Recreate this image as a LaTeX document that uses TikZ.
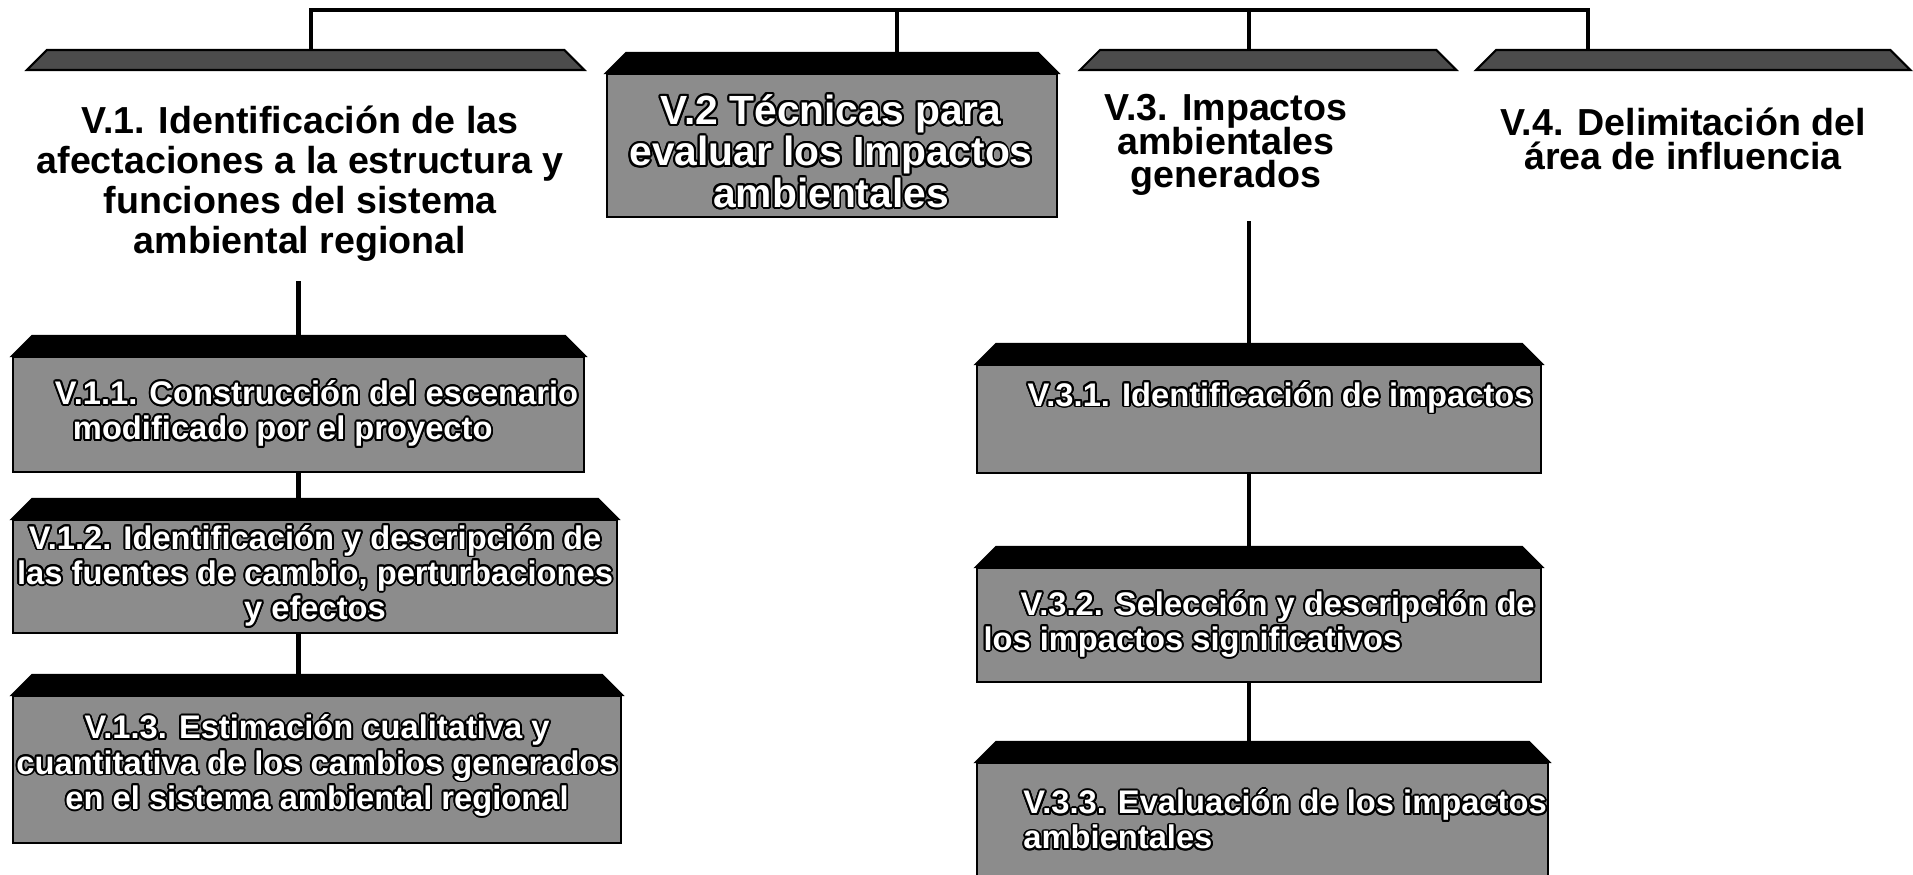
\documentclass[tikz,border=0pt]{standalone}
\usepackage{fontspec}
\setmainfont{Liberation Sans}
\usepackage{contour}
\contourlength{0.55pt}

% texto blanco con borde negro
\newcommand{\bl}[1]{\textcolor{white}{\contour{black}{#1}}}
% letra negrita con interlineado fijo
\newcommand{\letra}[2]{\fontsize{#1}{#2}\selectfont\bfseries\lineskiplimit=-\maxdimen}
% tapa en bisel sobre una caja
\newcommand{\tapa}[2][tapa]{%
  \coordinate (#2t) at ([yshift=2mm]#2.north);
  \draw[#1] (#2.north west) -- ++(20,-20) -- ([xshift=-2mm,yshift=2mm]#2.north east) -- (#2.north east) -- cycle;}

\begin{document}
\begin{tikzpicture}[x=0.1mm,y=-0.1mm,
  caja/.style={draw=black,line width=0.6pt,fill=black!45,inner sep=0pt,anchor=north west,align=center,
    font=\letra{9.3}{10}},
  hueco/.style={inner sep=0pt,anchor=north west},
  titulo/.style={align=center,font=\letra{10.7}{11.4}},
  tapa/.style={fill=black,draw=black,line width=0.6pt},
  tapagris/.style={fill=black!70,draw=black,line width=0.6pt},
  enlace/.style={line width=1.3pt}]
  \useasboundingbox (0,0) rectangle (1913,875);

  % fila superior
  \node[hueco,minimum width=55.6mm,minimum height=21mm] (v1) at (27,70) {};
  \node[titulo] (v1txt) at (300,184) {V.1. Identificación de las\\afectaciones a la estructura y\\funciones del sistema\\ambiental regional};
  \node[caja,minimum width=45mm,minimum height=14.3mm] (v2) at (606,73) {};
  \node[align=center,inner sep=0pt,font=\letra{11.6}{11.8}] (v2txt) at (831,152)
    {\bl{V.2 Técnicas para}\\\bl{evaluar los Impactos}\\\bl{ambientales}};
  \node[hueco,minimum width=37.5mm,minimum height=15mm] (v3) at (1080,70) {};
  \node[titulo,font=\letra{10.7}{9.5}] (v3txt) at (1226,145) {V.3. Impactos\\ambientales\\generados};
  \node[hueco,minimum width=43.3mm,minimum height=14mm] (v4) at (1476,70) {};
  \node[titulo,font=\letra{10.7}{9.8}] (v4txt) at (1683,139) {V.4. Delimitación del\\área de influencia};
  \tapa[tapagris]{v1} \tapa{v2} \tapa[tapagris]{v3} \tapa[tapagris]{v4}

  % rama V.1
  \node[caja,minimum width=57.1mm,minimum height=11.5mm,align=left] (v11) at (12,356)
    {\hspace*{3.6mm}\bl{V.1.1. Construcción del escenario}\\\hspace*{5.4mm}\bl{modificado por el proyecto}};
  \node[caja,minimum width=60.4mm,minimum height=11.3mm] (v12) at (12,519)
    {\bl{V.1.2. Identificación y descripción de}\\\bl{las fuentes de cambio, perturbaciones}\\\bl{y efectos}};
  \node[caja,minimum width=60.8mm,minimum height=14.7mm,text depth=1.5mm] (v13) at (12,695)
    {\bl{V.1.3. Estimación cualitativa y}\\\bl{cuantitativa de los cambios generados}\\\bl{en el sistema ambiental regional}};
  \tapa{v11} \tapa{v12} \tapa{v13}

  % rama V.3
  \node[caja,minimum width=56.4mm,minimum height=10.8mm,text depth=5mm] (v31) at (976,364)
    {\hspace*{4.2mm}\bl{V.3.1. Identificación de impactos}};
  \node[caja,minimum width=56.4mm,minimum height=11.4mm,align=left] (v32) at (976,567)
    {\hspace*{3.7mm}\bl{V.3.2. Selección y descripción de}\\\bl{los impactos significativos}};
  \node[caja,minimum width=57.1mm,minimum height=11.5mm,align=left] (v33) at (976,762)
    {\hspace*{4.5mm}\bl{V.3.3. Evaluación de los impactos}\\\hspace*{4.5mm}\bl{ambientales}};
  \tapa{v31} \tapa{v32} \tapa{v33}

  % enlaces
  \coordinate (bus1) at (311,10); \coordinate (bus2) at (897,10);
  \coordinate (bus3) at (1249,10); \coordinate (bus4) at (1588,10);
  \draw[enlace] (bus1 |- v1t) -- (bus1) -- (bus4) -- (bus4 |- v4t);
  \draw[enlace] (bus2) -- (bus2 |- v2t);
  \draw[enlace] (bus3) -- (bus3 |- v3t);
  \draw[enlace] (v1.south -| v11t) -- (v11t);
  \draw[enlace] (v11.south -| v11t) -- (v12t -| v11t);
  \draw[enlace] (v12.south -| v11t) -- (v13t -| v11t);
  \draw[enlace] (bus3 |- v3.south) -- (bus3 |- v31t);
  \draw[enlace] (bus3 |- v31.south) -- (bus3 |- v32t);
  \draw[enlace] (bus3 |- v32.south) -- (bus3 |- v33t);
\end{tikzpicture}
\end{document}
